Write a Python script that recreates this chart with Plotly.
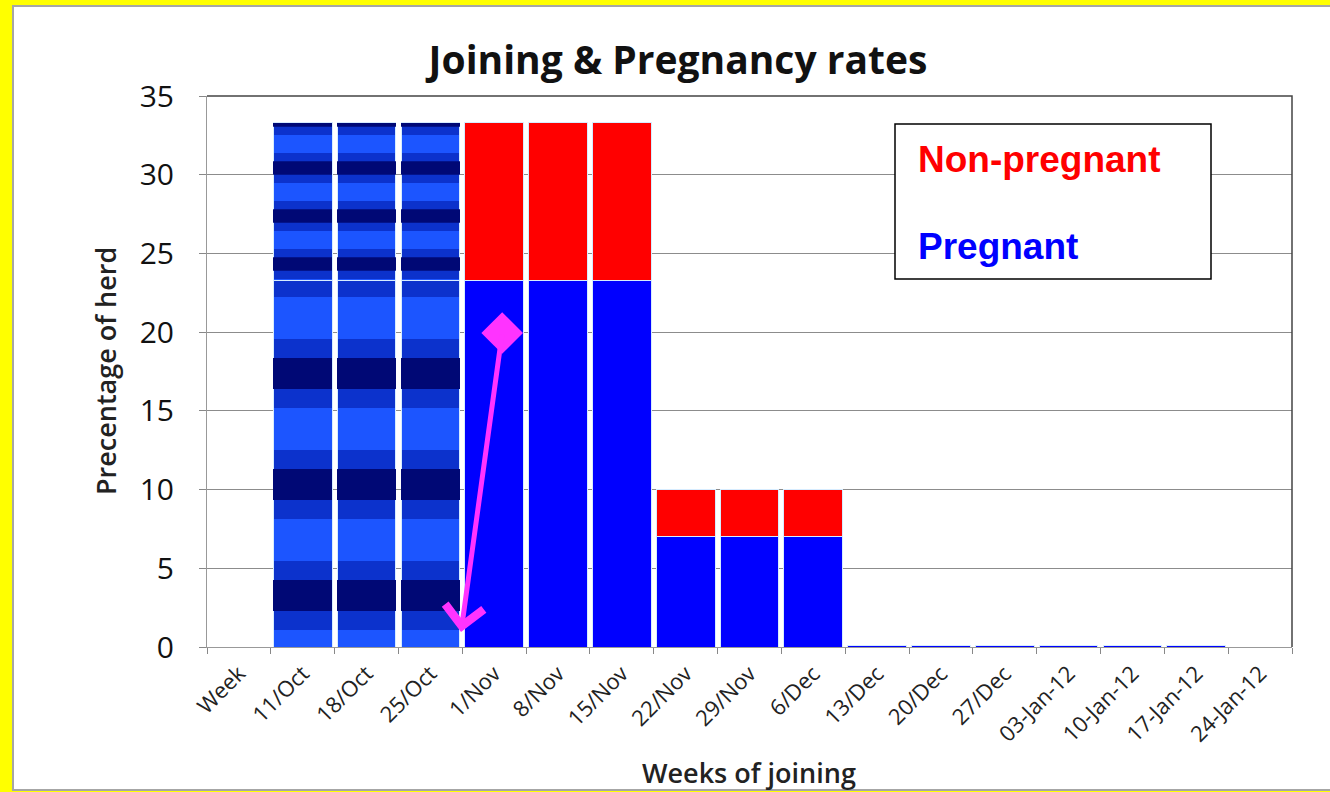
import plotly.graph_objects as go

weeks = ['Week', '11/Oct', '18/Oct', '25/Oct', '1/Nov', '8/Nov', '15/Nov',
         '22/Nov', '29/Nov', '6/Dec', '13/Dec', '20/Dec', '27/Dec',
         '03-Jan-12', '10-Jan-12', '17-Jan-12', '24-Jan-12']
pregnant = [0, 23.3, 23.3, 23.3, 23.3, 23.3, 23.3, 7, 7, 7,
            0.12, 0.12, 0.12, 0.12, 0.12, 0.12, 0]
non_pregnant = [0, 10, 10, 10, 10, 10, 10, 3, 3, 3,
                0, 0, 0, 0, 0, 0, 0]
# first three weeks were drawn with a banded gradient fill
banded = [False, True, True, True] + [False] * 13

# pointer: diamond start and arrow tip (category index, %)
pointer_start = (4.125, 19.95)
pointer_end = (3.48, 0.95)

W, H = 1330, 792
L, R, T, B = 207, 1292, 96, 647


def px_x(p):
    return (p - L) / (R - L)


def px_y(p):
    return (B - p) / (B - T)


def pick(vals, keep):
    return [v if k else None for v, k in zip(vals, keep)]


blue = '#0000ff'
red = '#ff0000'
band_light = '#1c55ff'
band_mid = '#0c32cc'
band_dark = '#000875'
edge = '#d6ecff'
font = 'Open Sans'
plain = [not b for b in banded]
# stripe period (px) for lower / upper part of the banded bars
periods = [111, 48]

fig = go.Figure()

# banded bars: base layer (bright blue with soft mid-dark stripes)
for vals, period in zip([pregnant, non_pregnant], periods):
    fig.add_trace(go.Bar(
        x=weeks, y=pick(vals, banded),
        marker=dict(
            color=band_light, line=dict(color=edge, width=1),
            pattern=dict(shape='-', size=period, solidity=0.62,
                         bgcolor=band_light, fgcolor=band_mid, fgopacity=1),
        ),
        showlegend=False, hoverinfo='skip',
    ))
# plain bars
for vals, col in [(pregnant, blue), (non_pregnant, red)]:
    fig.add_trace(go.Bar(
        x=weeks, y=pick(vals, plain),
        marker=dict(color=col, line=dict(color=edge, width=1)),
        showlegend=False,
    ))
# banded bars: second layer of narrower dark stripes
for vals, period in zip([pregnant, non_pregnant], periods):
    fig.add_trace(go.Bar(
        x=weeks, y=pick(vals, banded), xaxis='x3',
        marker=dict(
            color='rgba(0,0,0,0)', line=dict(width=0),
            pattern=dict(shape='-', size=period, solidity=0.28,
                         bgcolor='rgba(0,0,0,0)', fgcolor=band_dark,
                         fgopacity=1),
        ),
        showlegend=False, hoverinfo='skip',
    ))

# diamond at the start of the pointer
fig.add_trace(go.Scatter(
    x=[pointer_start[0]], y=[pointer_start[1]], xaxis='x2',
    mode='markers',
    marker=dict(symbol='diamond', size=32, color='#ff33ff'),
    showlegend=False, hoverinfo='skip',
))

fig.add_annotation(
    x=pointer_end[0], y=pointer_end[1], ax=pointer_start[0], ay=pointer_start[1],
    xref='x', yref='y', axref='x', ayref='y',
    showarrow=True, arrowhead=4, arrowsize=1.5, arrowwidth=5,
    arrowcolor='#ff33ff', text='',
)

# white panel with grey frame on yellow background
fig.add_shape(type='rect', xref='paper', yref='paper',
              x0=px_x(13), x1=px_x(1345), y0=px_y(790), y1=px_y(6),
              fillcolor='white', line=dict(color='#a6a6a6', width=2),
              layer='below')
# top and right border of plot area
fig.add_shape(type='path', xref='paper', yref='paper',
              path='M 0,1 L 1,1 L 1,0', line=dict(color='#444444', width=1.5))

# text legend box
fig.add_shape(type='rect', xref='paper', yref='paper',
              x0=px_x(895), x1=px_x(1211), y0=px_y(279), y1=px_y(124),
              fillcolor='white', line=dict(color='black', width=1.5))
fig.add_annotation(xref='paper', yref='paper', x=px_x(916), y=px_y(159),
                   xanchor='left', yanchor='middle', showarrow=False,
                   text='<b>Non-pregnant</b>',
                   font=dict(family='Liberation Sans, Arial', size=37, color=red))
fig.add_annotation(xref='paper', yref='paper', x=px_x(916), y=px_y(246),
                   xanchor='left', yanchor='middle', showarrow=False,
                   text='<b>Pregnant</b>',
                   font=dict(family='Liberation Sans, Arial', size=37, color=blue))

# axis titles
fig.add_annotation(xref='paper', yref='paper', x=px_x(105), y=px_y(371),
                   xanchor='center', yanchor='middle',
                   textangle=-90, showarrow=False, text='Precentage of herd',
                   font=dict(family=font, size=27, weight=600, color='#222222'))
fig.add_annotation(xref='paper', yref='paper', x=px_x(749), y=px_y(772),
                   xanchor='center', yanchor='middle',
                   showarrow=False, text='Weeks of joining',
                   font=dict(family=font, size=27, weight=600, color='#222222'))

fig.update_layout(
    width=W, height=H,
    margin=dict(l=L, r=W - R, t=T, b=H - B),
    paper_bgcolor='#ffff00',
    plot_bgcolor='white',
    barmode='stack',
    bargap=0.08,
    title=dict(text='Joining & Pregnancy rates', x=678 / W, y=1 - 60 / H,
               xanchor='center', yanchor='middle',
               font=dict(family=font, size=39, weight='bold', color='#111111')),
    xaxis=dict(
        type='category', range=[-0.5, 16.5], tickson='boundaries',
        ticks='outside', ticklen=6, tickcolor='#888888',
        showline=True, linecolor='#999999', showgrid=False,
        tickangle=-45, ticklabelstandoff=4,
        tickfont=dict(family=font, size=22, color='#222222'),
    ),
    xaxis2=dict(overlaying='x', range=[-0.5, 16.5], visible=False, anchor='y'),
    xaxis3=dict(overlaying='x', type='category', categoryarray=weeks,
                range=[-0.5, 16.5], visible=False, anchor='y'),
    yaxis=dict(
        range=[0, 35], dtick=5, ticks='outside', ticklen=7, tickcolor='#888888',
        showline=True, linecolor='#999999', gridcolor='#8c8c8c', gridwidth=1,
        zeroline=False, ticklabelstandoff=19,
        tickfont=dict(family=font, size=30, color='#111111'),
    ),
)

fig.write_html(
    'out.html',
    config={'displayModeBar': False},
    post_script="document.body.style.margin='0';"
                "document.body.style.background='#ffff00';",
)
